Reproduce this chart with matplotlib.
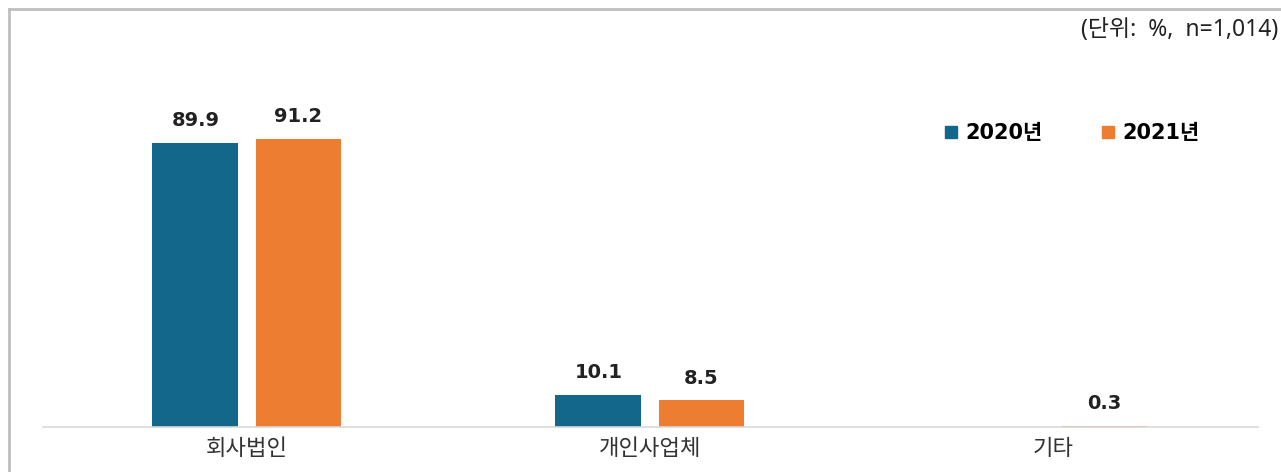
import numpy as np
import matplotlib.pyplot as plt
from matplotlib.lines import Line2D

plt.rcParams['font.family'] = ['Noto Sans CJK KR', 'DejaVu Sans']
num_font = ['DejaVu Sans', 'Noto Sans CJK KR']
note_font = ['Noto Sans', 'Noto Sans CJK KR']

# data
categories = ["회사법인", "개인사업체", "기타"]
years = ["2020년", "2021년"]
v2020 = [89.9, 10.1, None]
v2021 = [91.2, 8.5, 0.3]
colors = ["#12678A", "#ED7D31"]

fig = plt.figure(figsize=(12.81, 4.72), dpi=100)
# axes box in pixel terms: x 43..1258, y baseline 427 (from top) up to 9
ax = fig.add_axes([43/1281, 45/472, (1258-43)/1281, (427-9)/472])

x = np.arange(len(categories))
w = 0.213
off = 0.128
for vals, dx, c in [(v2020, -off, colors[0]), (v2021, off, colors[1])]:
    for xi, v in zip(x, vals):
        if v is None:
            continue
        ax.bar(xi + dx, v, width=w, color=c)
        ax.text(xi + dx, v + 4.0, "{0:.1f}".format(v), ha="center", va="bottom",
                fontsize=14, fontweight="bold", color="#222222", family=num_font)

ax.set_xlim(-0.506, 2.509)
ax.set_ylim(0, 132.3)
for s in ["top", "right", "left"]:
    ax.spines[s].set_visible(False)
ax.spines["bottom"].set_color("#d9d9d9")
ax.spines["bottom"].set_linewidth(1.2)
ax.set_yticks([])
ax.set_xticks(x)
ax.set_xticklabels(categories, fontsize=16, color="#333333")
ax.tick_params(axis="x", length=0, pad=7)

# legend
handles = [Line2D([0], [0], marker="s", linestyle="", markersize=8.5, color=c) for c in colors]
leg = ax.legend(handles, years, loc="center left", bbox_to_anchor=(0.741, 0.703), ncol=2,
                frameon=False, borderaxespad=0, borderpad=0,
                handlelength=0.7, handletextpad=0.35, columnspacing=2.8,
                prop={"weight": "bold", "size": 15, "family": num_font})

# unit note
fig.text(0.998, 1 - 30/472, "(단위:  %,  n=1,014)", ha="right", va="center",
         fontsize=16.5, color="#222222", family=note_font)

# frame lines (left and top)
fig.add_artist(Line2D([9/1281, 9/1281], [0, 1 - 9/472], color="#bfbfbf", lw=2, transform=fig.transFigure))
fig.add_artist(Line2D([9/1281, 1], [1 - 9/472, 1 - 9/472], color="#bfbfbf", lw=2, transform=fig.transFigure))

fig.savefig("out.png", dpi=100)
